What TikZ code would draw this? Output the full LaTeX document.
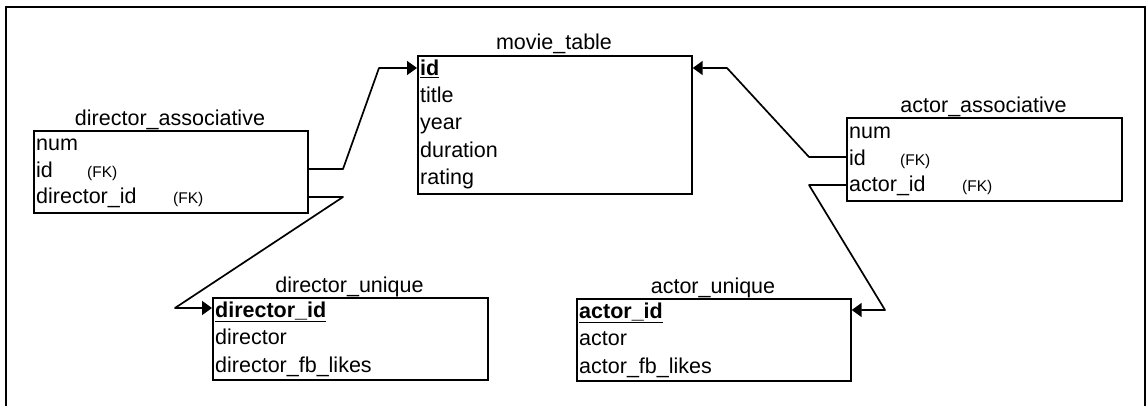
\documentclass[tikz,border=0pt]{standalone}
\usepackage{fontspec}
\setmainfont{Liberation Sans}
\usetikzlibrary{arrows.meta}
\begin{document}
\begin{tikzpicture}[x=1pt,y=-1pt,
  tbl/.style={draw, line width=1.7pt, anchor=north west, inner sep=0pt},
  ttl/.style={anchor=base, inner sep=0pt, font=\fontsize{21.5}{24}\selectfont},
  row/.style={anchor=base west, inner sep=0pt, font=\fontsize{21.5}{24}\selectfont},
  fk/.style={anchor=base west, inner sep=0pt, font=\fontsize{15.5}{17}\selectfont},
  conn/.style={line width=1.7pt, line join=round},
  tip/.style={-{Triangle[length=10pt,width=14pt]}}
]
\useasboundingbox[fill=white] (0,0) rectangle (1147,406);
% outer frame
\draw[line width=2.5pt] (6,406) -- (6,7) -- (1145,7) -- (1145,406);

% director_associative
\node[tbl, minimum width=274pt, minimum height=82pt] (da) at (33,130) {};
\node[ttl] (dat) at (170,126) {director\_associative};
\node[row] (da1) at (36,151) {num};
\node[row] (da2) at (36,177.5) {id};
\node[fk]  (da2k) at (87,177.5) {(FK)};
\node[row] (da3) at (36,204) {director\_id};
\node[fk]  (da3k) at (173,204) {(FK)};

% movie_table
\node[tbl, minimum width=274pt, minimum height=138pt] (mt) at (417,55) {};
\node[ttl] (mtt) at (554,50) {movie\_table};
\node[row] (mt1) at (420,76) {\underline{\textbf{id}}};
\node[row] (mt2) at (420,103) {title};
\node[row] (mt3) at (420,130) {year};
\node[row] (mt4) at (420,157.5) {duration};
\node[row] (mt5) at (420,185) {rating};

% actor_associative
\node[tbl, minimum width=275pt, minimum height=83pt] (aa) at (846,117) {};
\node[ttl] (aat) at (983.5,113) {actor\_associative};
\node[row] (aa1) at (849,138.5) {num};
\node[row] (aa2) at (849,165) {id};
\node[fk]  (aa2k) at (900,165) {(FK)};
\node[row] (aa3) at (849,191.5) {actor\_id};
\node[fk]  (aa3k) at (962,191.5) {(FK)};

% director_unique
\node[tbl, minimum width=275pt, minimum height=82pt] (du) at (212,297) {};
\node[ttl] (dut) at (349.5,292) {director\_unique};
\node[row] (du1) at (215,317) {\underline{\textbf{director\_id}}};
\node[row] (du2) at (215,344.5) {director};
\node[row] (du3) at (215,372) {director\_fb\_likes};

% actor_unique
\node[tbl, minimum width=274pt, minimum height=82pt] (au) at (576,298) {};
\node[ttl] (aut) at (713,293) {actor\_unique};
\node[row] (au1) at (579,318) {\underline{\textbf{actor\_id}}};
\node[row] (au2) at (579,345.5) {actor};
\node[row] (au3) at (579,373) {actor\_fb\_likes};

% connectors
\draw[conn, tip] (da.east |- 0,169) -- (343,169) -- (379,68) -- (mt.west |- 0,68);
\draw[conn, tip] (da.east |- 0,197) -- (343,197) -- (175,308) -- (du.west |- 0,308);
\draw[conn, tip] (aa.west |- 0,157) -- (809,157) -- (727,68) -- (mt.east |- 0,68);
\draw[conn, tip] (aa.west |- 0,185) -- (809,185) -- (885,310) -- (au.east |- 0,310);
\end{tikzpicture}
\end{document}
